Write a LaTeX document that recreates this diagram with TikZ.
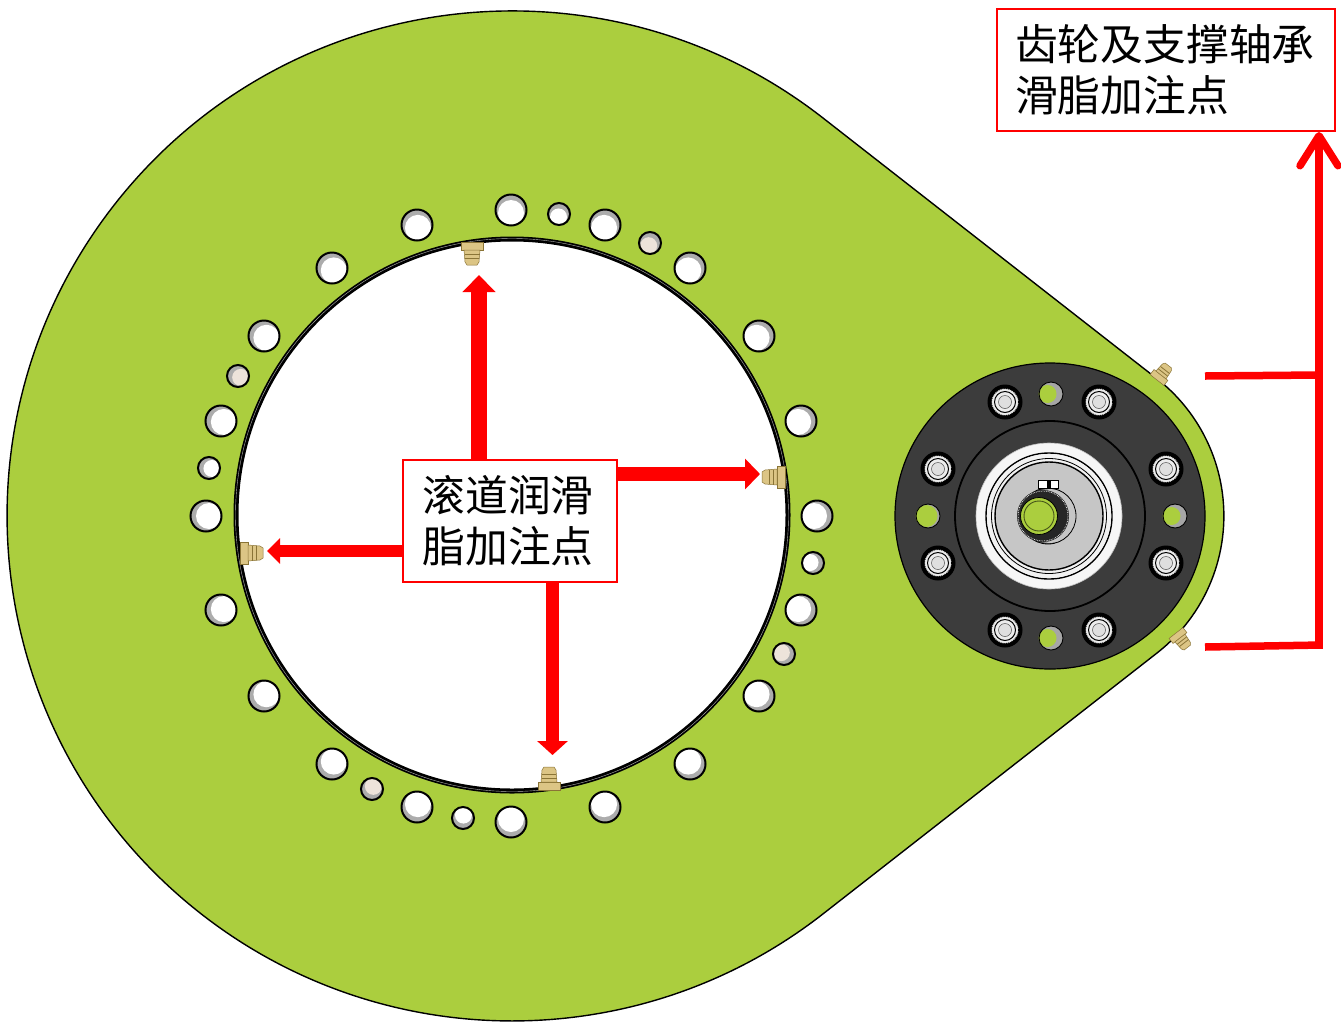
\documentclass[tikz,border=0pt]{standalone}
\usepackage{fontspec}
\newfontfamily\cjk{Noto Sans CJK SC}
\usetikzlibrary{arrows.meta,calc}
\definecolor{plate}{HTML}{ABCE3E}
\definecolor{hubdark}{HTML}{3C3C3C}
\definecolor{beige}{HTML}{EDE3DA}
\definecolor{brass}{HTML}{DCC585}
\definecolor{brassd}{HTML}{8A7436}
\definecolor{arrowred}{HTML}{FF0000}
\tikzset{
  labelbox/.style={draw=arrowred,line width=2pt,fill=white,inner sep=0pt,outer sep=0pt,
    font=\cjk\fontsize{42.8}{51}\selectfont,align=left,text=black},
  fatarrow/.style={arrowred,line width=#1},
  bracketline/.style={draw=arrowred,line width=7.5pt},
}
\newcommand{\nipple}[4]{% x y angle scale
  \begin{scope}[shift={(#1,#2)},rotate=#3,scale=#4]
    \fill[brass,draw=brassd,line width=.5pt] (0,-11)--(8,-11)--(8,11)--(0,11)--cycle;
    \fill[brass,draw=brassd,line width=.5pt] (8,-8)--(20,-7)--(23,-5)--(23,5)--(20,7)--(8,8)--cycle;
    \draw[brassd,line width=.8pt] (12,-7.5)--(12,7.5) (16,-7)--(16,7);
  \end{scope}}
\newcommand{\bolt}[2]{%
  \fill[black] (#1,#2) circle[radius=17.5];
  \fill[white!85!gray] (#1,#2) circle[radius=13.5];
  \draw[black,line width=.9pt,densely dotted] (#1,#2) circle[radius=13.5];
  \draw[black,line width=1pt] (#1,#2) circle[radius=10.5];
  \fill[white!75!gray,draw=gray!60!black,line width=.5pt] (#1,#2) circle[radius=6.5];
}
\newcommand{\greenhole}[3]{%
  \fill[gray!70] (#1,#2) circle[radius=12];
  \fill[plate] ($(#1,#2)+(#3,0)$) circle[radius=#3+12.5];
  \draw[black,line width=.9pt] (#1,#2) circle[radius=12];
}
\begin{document}
\begin{tikzpicture}[x=1pt,y=-1pt]
\useasboundingbox (0,0) rectangle (1341,1021);
\fill[white] (0,0) rectangle (1341,1021);
% plate
\draw[fill=plate,draw=black,line width=1.4pt] (823,118)
  arc[start angle=-52,end angle=-308,radius=505] -- (1157,653)
  arc[start angle=52,end angle=-52,radius=174] -- cycle;
% central opening
\fill[white] (512,516) circle[radius=277];
\draw[black,line width=5pt] (512,515) circle[radius=276];
\draw[gray!60,line width=.4pt] (512,515) circle[radius=276.5];
% bolt holes
\foreach \x/\y/\r/\c in {417/225/15.5/white,511/210/15.5/white,559/214/11/white,605/225/15.5/white,650/243/11/beige,690/268/15.5/white,
  759/336/15.5/white,801/421/15.5/white,817/516/15.5/white,813/563/11/white,801/610/15.5/white,784/654/11/beige,759/696/15.5/white,
  690/764/15.5/white,605/807/15.5/white,511/822/15.5/white,463/818/11/white,417/807/15.5/white,372/789/11/beige,332/764/15.5/white,
  264/696/15.5/white,221/610/15.5/white,206/516/15.5/white,209/468/11/white,221/421/15.5/white,238/376/11/beige,264/336/15.5/white,332/268/15.5/white}{
  \fill[gray!65] (\x,\y) circle[radius=\r];
  \fill[\c] ($(\x,\y)!3pt!(512,516)$) circle[radius=\r-2.5];
  \draw[black,line width=2pt] (\x,\y) circle[radius=\r];
}
% hub
\fill[hubdark,draw=black,line width=1.2pt] (1050,516) ellipse[x radius=155,y radius=153];
\draw[black,line width=1.8pt] (1050,516) circle[radius=95];
\fill[white!93!gray] (1049,516) circle[radius=73];
\draw[gray!50,line width=.6pt] (1049,516) circle[radius=73];
\draw[black,line width=1.4pt] (1049,516) circle[radius=63];
\fill[white!90!gray] (1049,516) circle[radius=62];
\fill[gray!45] (1049,516) circle[radius=54];
\draw[black,line width=1.4pt] (1049,516) circle[radius=54];
\draw[black,line width=.8pt] (1049,516) circle[radius=57.5];
\fill[gray!60!black] (1048,516) circle[radius=28];
\fill[gray!45] (1050,516) circle[radius=27];
\draw[black,line width=.8pt] (1048,516) circle[radius=28];
\fill[white,draw=black,line width=.7pt] (1038,480) rectangle (1058,488);
\fill[black] (1047,480) rectangle (1051,488);
\fill[gray!30!black] (1043,516) circle[radius=26];
\draw[white,line width=.7pt,densely dotted] (1043,516) circle[radius=25];
\fill[plate,draw=black,line width=.8pt] (1039,516) circle[radius=18.5];
\draw[black!60!plate,line width=.9pt] (1039,516) circle[radius=15];
\foreach \x/\y in {1005/402,1099/402,938/469,1166/469,938/563,1166/563,1005/630,1099/630}{\bolt{\x}{\y}}
\greenhole{1051}{394}{-3.5}
\greenhole{1051}{638}{-3.5}
\greenhole{928}{516}{-1.5}
\greenhole{1175}{516}{-3.5}
% grease nipples
\nipple{240}{553}{0}{1}
\nipple{785}{477}{180}{1}
\nipple{472}{242}{-90}{1}
\nipple{549}{790}{90}{1}
\nipple{1157}{380}{52}{.8}
\nipple{1176}{633}{-52}{.8}
% labels
\node[labelbox,minimum width=214pt,minimum height=122pt] (raceway) at (510,521) {\hspace*{-4pt}滚道润滑\\\hspace*{-4pt}脂加注点};
\node[labelbox,minimum width=338pt,minimum height=122pt,text width=298pt] (gearbox) at (1166,70) {\hspace*{-2pt}齿轮及支撑轴承\\\hspace*{-2pt}滑脂加注点};
% arrow targets
\coordinate (tipup) at (479,275);
\coordinate (tipright) at (760,474);
\coordinate (tipleft) at (267,551);
\coordinate (tipdown) at (552.5,755);
\coordinate (gearA) at (1205,376);
\coordinate (gearB) at (1205,647);
\coordinate (trunkA) at (1318.5,375);
\coordinate (trunkB) at (1322,645);
\coordinate (trunkTop) at (1319,132);
% raceway arrows
\draw[fatarrow=16pt,-{Triangle[length=17pt,width=32pt]}] (raceway.north -| tipup) -- (tipup);
\draw[fatarrow=14pt,-{Triangle[length=15pt,width=30pt]}] (raceway.east |- tipright) -- (tipright);
\draw[fatarrow=12pt,-{Triangle[length=13pt,width=25pt]}] (raceway.west |- tipleft) -- (tipleft);
\draw[fatarrow=13pt,-{Triangle[length=14pt,width=30pt]}] (raceway.south -| tipdown) -- (tipdown);
% gear bracket
\draw[bracketline] (gearA) -- (trunkA);
\draw[bracketline] (gearB) -- (trunkB);
\draw[bracketline,-{Straight Barb[length=30pt,width=38pt,round]}] (1319,648.5) -- (trunkTop);
\end{tikzpicture}
\end{document}
